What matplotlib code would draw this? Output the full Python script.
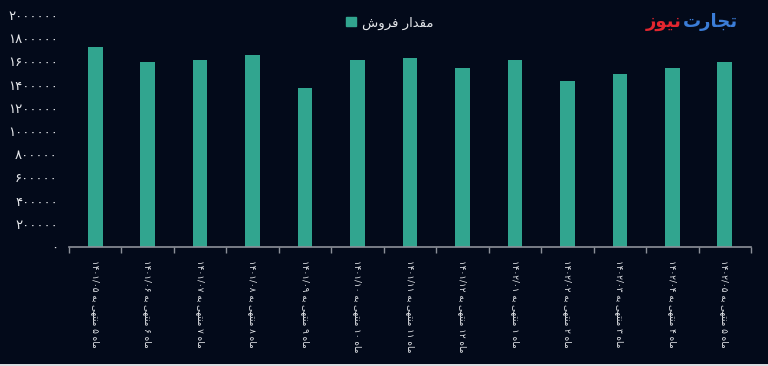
import matplotlib
matplotlib.use("Agg")
import matplotlib.pyplot as plt
from matplotlib.patches import Patch, Rectangle

# ---------------- data ----------------
categories = [
    "ماه ۵ منتهی به ۱۴۰۱/۰۵",
    "ماه ۶ منتهی به ۱۴۰۱/۰۶",
    "ماه ۷ منتهی به ۱۴۰۱/۰۷",
    "ماه ۸ منتهی به ۱۴۰۱/۰۸",
    "ماه ۹ منتهی به ۱۴۰۱/۰۹",
    "ماه ۱۰ منتهی به ۱۴۰۱/۱۰",
    "ماه ۱۱ منتهی به ۱۴۰۱/۱۱",
    "ماه ۱۲ منتهی به ۱۴۰۱/۱۲",
    "ماه ۱ منتهی به ۱۴۰۲/۰۱",
    "ماه ۲ منتهی به ۱۴۰۲/۰۲",
    "ماه ۳ منتهی به ۱۴۰۲/۰۳",
    "ماه ۴ منتهی به ۱۴۰۲/۰۴",
    "ماه ۵ منتهی به ۱۴۰۲/۰۵",
]
sales = [1726000, 1599000, 1608000, 1654000, 1371000, 1608000, 1628000,
         1541000, 1613000, 1431000, 1489000, 1547000, 1593000]
series_name = "مقدار فروش"
yticks = [0, 200000, 400000, 600000, 800000, 1000000, 1200000, 1400000,
          1600000, 1800000, 2000000]
logo_part1 = "تجارت"
logo_part2 = "نیوز"

# ---------------- simple Arabic/Persian shaping ----------------
# (isolated, final, initial, medial)
FORMS = {
    'ا': ('\uFE8D', '\uFE8E', None, None),
    'ب': ('\uFE8F', '\uFE90', '\uFE91', '\uFE92'),
    'ت': ('\uFE95', '\uFE96', '\uFE97', '\uFE98'),
    'ج': ('\uFE9D', '\uFE9E', '\uFE9F', '\uFEA0'),
    'د': ('\uFEA9', '\uFEAA', None, None),
    'ر': ('\uFEAD', '\uFEAE', None, None),
    'ز': ('\uFEAF', '\uFEB0', None, None),
    'ش': ('\uFEB5', '\uFEB6', '\uFEB7', '\uFEB8'),
    'ف': ('\uFED1', '\uFED2', '\uFED3', '\uFED4'),
    'ق': ('\uFED5', '\uFED6', '\uFED7', '\uFED8'),
    'م': ('\uFEE1', '\uFEE2', '\uFEE3', '\uFEE4'),
    'ن': ('\uFEE5', '\uFEE6', '\uFEE7', '\uFEE8'),
    'ه': ('\uFEE9', '\uFEEA', '\uFEEB', '\uFEEC'),
    'و': ('\uFEED', '\uFEEE', None, None),
    'ی': ('\uFEEF', '\uFEF0', '\uFEF3', '\uFEF4'),
}


def shape_word(w):
    out = []
    n = len(w)
    for i, c in enumerate(w):
        if c not in FORMS:
            out.append(c)
            continue
        prev = w[i - 1] if i > 0 else None
        nxt = w[i + 1] if i < n - 1 else None
        jp = prev in FORMS and FORMS[prev][2] is not None
        jn = FORMS[c][2] is not None and nxt in FORMS
        f = FORMS[c]
        if jp and jn:
            out.append(f[3])
        elif jp:
            out.append(f[1])
        elif jn:
            out.append(f[2])
        else:
            out.append(f[0])
    return "".join(out)


def visual(text):
    toks = text.split(" ")
    res = []
    for t in toks:
        if any(ch in FORMS for ch in t):
            res.append(shape_word(t)[::-1])
        else:
            res.append(t)
    return " ".join(res[::-1])


def fa_digits(v):
    return str(v).translate(str.maketrans("0123456789", "۰۱۲۳۴۵۶۷۸۹"))


# ---------------- plot ----------------
BG = "#030a1a"
BAR = "#31a58f"
TXT = "#e6e8ec"
AX = "#8c9099"

plt.rcParams['font.family'] = ['DejaVu Sans']

fig = plt.figure(figsize=(7.68, 3.66), dpi=100, facecolor=BG)
ax = fig.add_axes([69 / 768, 1 - 247 / 366, (751 - 69) / 768, (247 - 15) / 366])
ax.set_facecolor(BG)

x = list(range(len(categories)))
ax.bar(x, sales, width=0.28, color=BAR, zorder=2)

ax.set_xlim(-0.5, len(categories) - 0.5)
ax.set_ylim(0, 2000000)
ax.set_yticks(yticks)
ax.set_yticklabels([fa_digits(v) for v in yticks], color=TXT, fontsize=9.5)
ax.tick_params(axis='y', length=0, pad=8)

# category labels
ax.set_xticks(x)
ax.set_xticklabels([visual(c) for c in categories], rotation=-90,
                   color=TXT, fontsize=6.3, va='top', ha='center')
ax.tick_params(axis='x', which='major', length=0, pad=9)
# boundary ticks
ax.set_xticks([i - 0.5 for i in range(len(categories) + 1)], minor=True)
ax.tick_params(axis='x', which='minor', length=4, color=AX, width=1)

for s in ['top', 'right', 'left']:
    ax.spines[s].set_visible(False)
ax.spines['bottom'].set_color(AX)
ax.spines['bottom'].set_linewidth(1.2)

# legend
fig.legend(handles=[Patch(facecolor=BAR, edgecolor=BAR)],
           labels=[visual(series_name)],
           loc='center', bbox_to_anchor=(390 / 768, 1 - 23 / 366),
           frameon=False, handlelength=0.7, handleheight=0.7,
           handletextpad=0.5, fontsize=9.5, labelcolor=TXT)

# logo
fig.text(683 / 768, 1 - 22 / 366, visual(logo_part1), color="#3b7dd8",
         fontsize=13, fontweight='bold', ha='left', va='center')
fig.text(682 / 768, 1 - 22 / 366, visual(logo_part2), color="#e3262f",
         fontsize=13, fontweight='bold', ha='right', va='center')

# thin light strip at bottom edge
fig.patches.append(Rectangle((0, 0), 1, 2 / 366, transform=fig.transFigure,
                             facecolor="#d8dbe0", edgecolor='none'))

fig.savefig("out.png", dpi=100, facecolor=BG)
